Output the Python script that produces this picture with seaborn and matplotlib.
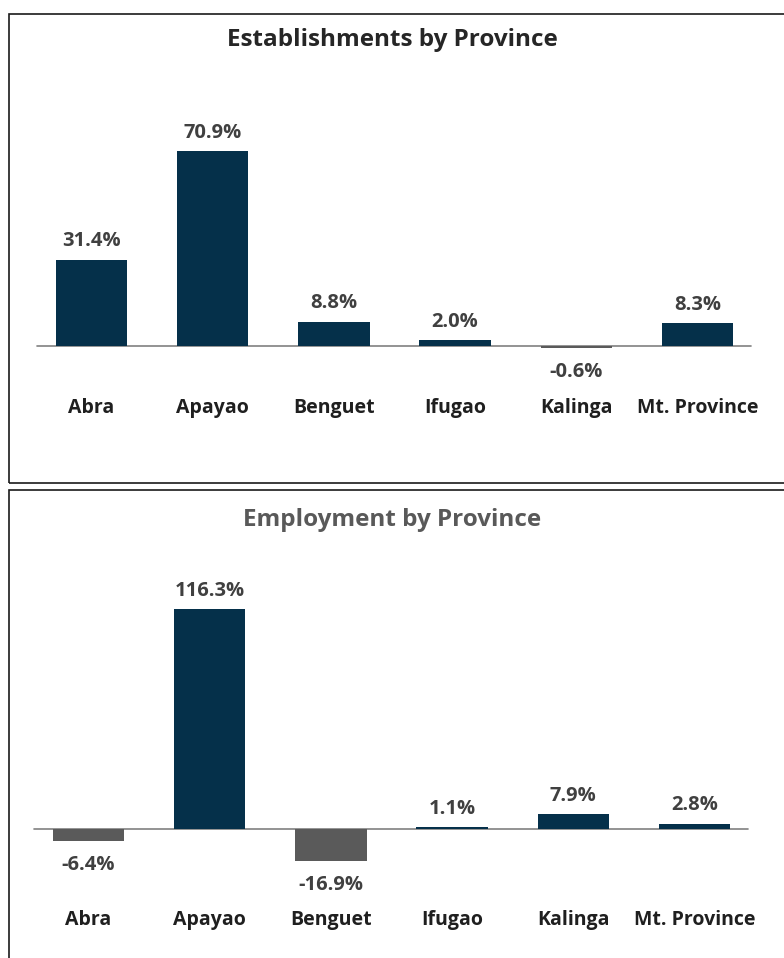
"""Establishments and employment growth by province, two stacked bar panels."""

import matplotlib.pyplot as plt
import seaborn as sns
import pandas as pd
from matplotlib.patches import Rectangle

provinces = ["Abra", "Apayao", "Benguet", "Ifugao", "Kalinga", "Mt. Province"]
establishments = [31.4, 70.9, 8.8, 2.0, -0.6, 8.3]
employment = [-6.4, 116.3, -16.9, 1.1, 7.9, 2.8]

NAVY = "#05304a"
GREY = "#5a5a5a"
W, H = 784, 958

sns.set_style("white")
plt.rcParams["font.family"] = ["Open Sans", "DejaVu Sans"]


def px_axes(fig, left, top, right, bottom):
    return fig.add_axes([left / W, 1 - bottom / H, (right - left) / W, (bottom - top) / H])


def draw_panel(fig, ax, values, title, title_color, title_y, ylim, label_pad):
    df = pd.DataFrame({"province": provinces, "value": values})
    colors = [NAVY if v >= 0 else GREY for v in values]
    sns.barplot(data=df, x="province", y="value", hue="province", palette=colors,
                legend=False, width=0.59, saturation=1, ax=ax, zorder=3,
                linewidth=0, edgecolor="none")
    ax.set_xlim(-0.5, 5.5)
    ax.set_ylim(*ylim)
    ax.axhline(0, xmin=0.008, xmax=0.99, color="#808080", lw=1.2, zorder=1)
    for c in ax.containers:
        v = c.datavalues[0]
        ax.bar_label(c, labels=[f"{v:.1f}%"], padding=6 if v >= 0 else 10,
                     fontsize=14.5, fontweight="bold", color="#404040")
    ax.set_xlabel("")
    ax.set_ylabel("")
    ax.set_yticks([])
    ax.tick_params(axis="x", length=0, pad=label_pad, labelsize=14)
    for t in ax.get_xticklabels():
        t.set_fontweight("bold")
        t.set_color("#1f1f1f")
    sns.despine(ax=ax, left=True, bottom=True)
    fig.text(392 / W, 1 - title_y / H, title, ha="center", va="center",
             fontsize=17.5, fontweight="bold", color=title_color)


fig = plt.figure(figsize=(W / 100, H / 100), dpi=100)

for top, bottom in [(14, 483), (490, 970)]:
    fig.patches.append(Rectangle((9 / W, 1 - bottom / H), (800 - 9) / W, (bottom - top) / H,
                                 transform=fig.transFigure, fill=False,
                                 edgecolor="#1a1a1a", lw=1.2))

ax1 = px_axes(fig, 31, 100, 758, 360)
draw_panel(fig, ax1, establishments, "Establishments by Province", "#262626", 40,
           (-5.1, 89.5), 27.5)

ax2 = px_axes(fig, 28, 580, 755, 870)
draw_panel(fig, ax2, employment, "Employment by Province", "#595959", 520,
           (-21.7, 131.7), 28.5)

fig.savefig("out.png", dpi=100)
